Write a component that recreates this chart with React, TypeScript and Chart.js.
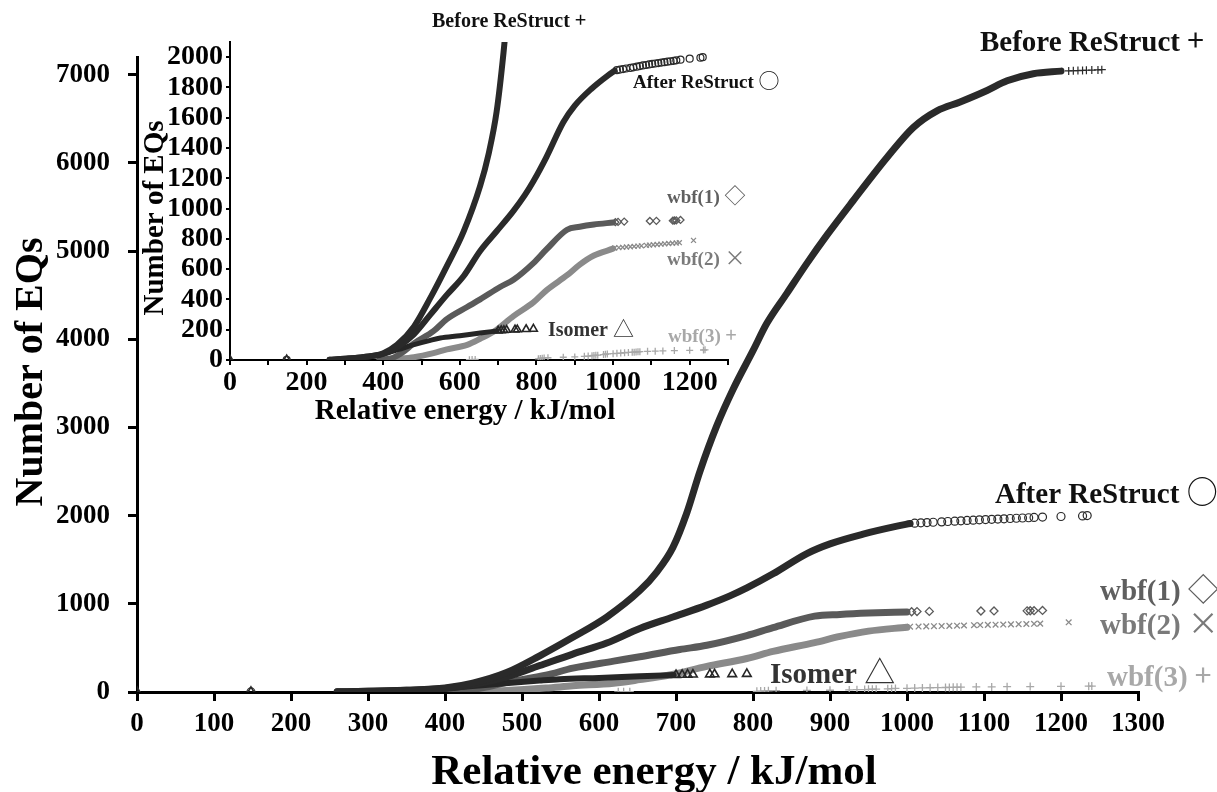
import React, { useEffect, useRef } from 'react';
import { Chart, registerables } from 'chart.js';

Chart.register(...registerables);

// ---------------- data ----------------
// energy (kJ/mol) and cumulative number of EQs
const beforeE = [260, 300, 350, 400, 436, 480, 523, 566, 610, 653, 675, 696, 714, 731, 753, 774, 800, 818, 844, 870, 896, 930, 974, 1008, 1039, 1069, 1104, 1130, 1164, 1200];
const beforeN = [2, 8, 20, 45, 100, 220, 410, 620, 850, 1150, 1360, 1640, 2030, 2500, 3020, 3430, 3870, 4180, 4520, 4860, 5180, 5570, 6060, 6400, 6590, 6690, 6820, 6930, 7010, 7040];
const beforeTailE = [0, 1210, 1216, 1222, 1228, 1233, 1240, 1248, 1253];
const beforeTailN = [1, 7042, 7044, 7046, 7048, 7050, 7052, 7054, 7056];

const afterE = [260, 300, 350, 400, 440, 480, 523, 566, 610, 653, 696, 740, 770, 792, 826, 870, 900, 943, 987, 1004];
const afterN = [2, 8, 20, 40, 90, 170, 300, 430, 555, 720, 850, 985, 1090, 1180, 1340, 1570, 1680, 1790, 1880, 1910];
const afterTailE = [148, 1010, 1018, 1026, 1034, 1045, 1053, 1062, 1070, 1078, 1086, 1094, 1102, 1110, 1118, 1126, 1134, 1142, 1150, 1158, 1165, 1176, 1200, 1228, 1234];
const afterTailN = [1, 1914, 1918, 1921, 1925, 1929, 1933, 1937, 1941, 1945, 1948, 1952, 1955, 1958, 1961, 1964, 1967, 1970, 1973, 1976, 1979, 1983, 1990, 1996, 2000];

const isoE = [260, 300, 350, 400, 440, 478, 523, 549, 600, 653, 697];
const isoN = [1, 6, 18, 40, 70, 100, 130, 145, 160, 178, 192];
const isoTailE = [0, 148, 700, 708, 715, 722, 744, 750, 773, 792];
const isoTailN = [1, 2, 193, 195, 196, 198, 200, 201, 203, 205];

const wbf1E = [390, 420, 450, 480, 531, 566, 619, 653, 705, 740, 792, 826, 880, 913, 950, 1000];
const wbf1N = [2, 10, 50, 110, 190, 270, 350, 400, 482, 530, 640, 730, 860, 880, 895, 908];
const wbf1TailE = [1006, 1013, 1029, 1096, 1113, 1156, 1160, 1165, 1176];
const wbf1TailN = [910, 912, 914, 918, 919, 920, 921, 922, 925];

const wbf2E = [400, 440, 480, 531, 566, 619, 653, 690, 740, 792, 826, 880, 913, 950, 1000];
const wbf2N = [2, 8, 18, 45, 70, 100, 140, 190, 290, 380, 460, 560, 630, 690, 735];
const wbf2TailE = [1004, 1015, 1025, 1035, 1045, 1055, 1065, 1074, 1087, 1095, 1105, 1115, 1125, 1135, 1145, 1155, 1165, 1173, 1210];
const wbf2TailN = [740, 742, 744, 746, 748, 750, 752, 754, 757, 759, 761, 763, 765, 767, 769, 771, 773, 775, 790];

const wbf3E = [625, 632, 640, 805, 810, 815, 820, 830, 870, 900, 925, 935, 945, 950, 955, 960, 975, 980, 985, 1000, 1010, 1020, 1030, 1040, 1050, 1055, 1060, 1065, 1070, 1090, 1110, 1130, 1160, 1200, 1236, 1240];
const wbf3N = [2, 3, 4, 8, 10, 12, 14, 15, 18, 20, 24, 26, 28, 30, 31, 32, 36, 38, 40, 42, 44, 46, 48, 50, 51, 52, 53, 54, 55, 57, 58, 60, 62, 64, 66, 67];

// axis ranges and tick values
const mainXRange = [0, 1300];
const mainYRange = [0, 7200];
const mainXTicks = [0, 100, 200, 300, 400, 500, 600, 700, 800, 900, 1000, 1100, 1200, 1300];
const mainYTicks = [0, 1000, 2000, 3000, 4000, 5000, 6000, 7000];
const insetXRange = [0, 1300];
const insetYRange = [0, 2100];
const insetXTicks = [0, 100, 200, 300, 400, 500, 600, 700, 800, 900, 1000, 1100, 1200, 1300];
const insetXLabelled = [0, 200, 400, 600, 800, 1000, 1200];
const insetYTicks = [0, 200, 400, 600, 800, 1000, 1200, 1400, 1600, 1800, 2000];

// series labels
const seriesLabels = ['Before ReStruct', 'After ReStruct', 'Isomer', 'wbf(1)', 'wbf(2)', 'wbf(3)'];
const seriesSymbols = ['+', '○', '△', '◇', '×', '+'];

// ---------------- styling ----------------
const SERIF = '"Liberation Serif", "Times New Roman", serif';
const SYM = '"Noto Sans CJK JP", "DejaVu Sans", sans-serif';
const COL = {
  before: '#2a2a2a',
  after: '#2a2a2a',
  iso: '#262626',
  wbf1: '#5a5a5a',
  wbf2: '#8a8a8a',
  wbf3: '#a8a8a8',
};

const pts = (xs: number[], ys: number[]) => xs.map((x, i) => ({ x, y: ys[i] }));

function buildDatasets(lineW: number, markR: number): any[] {
  const line = (xs: number[], ys: number[], color: string, w: number) => ({
    data: pts(xs, ys),
    showLine: true,
    borderColor: color,
    backgroundColor: color,
    borderWidth: w,
    pointRadius: 0,
    cubicInterpolationMode: 'monotone',
    borderCapStyle: 'round',
    borderJoinStyle: 'round',
  });
  const marks = (xs: number[], ys: number[], color: string, style: string, r: number, bw: number) => ({
    data: pts(xs, ys),
    showLine: false,
    pointStyle: style,
    pointRadius: r,
    borderColor: color,
    backgroundColor: 'rgba(255,255,255,0)',
    pointBorderWidth: bw,
  });
  return [
    line(beforeE, beforeN, COL.before, lineW),
    marks(beforeTailE, beforeTailN, COL.before, 'cross', markR, 1.2),
    line(afterE, afterN, COL.after, lineW),
    marks(afterTailE, afterTailN, COL.after, 'circle', markR, 1.2),
    line(isoE, isoN, COL.iso, lineW - 1),
    marks(isoTailE, isoTailN, COL.iso, 'triangle', markR + 1, 1.6),
    line(wbf1E, wbf1N, COL.wbf1, lineW),
    marks(wbf1TailE, wbf1TailN, COL.wbf1, 'rectRot', markR, 1.3),
    line(wbf2E, wbf2N, COL.wbf2, lineW),
    marks(wbf2TailE, wbf2TailN, COL.wbf2, 'crossRot', markR, 1.3),
    marks(wbf3E, wbf3N, COL.wbf3, 'cross', markR, 1.3),
  ];
}

function drawLabel(ctx: CanvasRenderingContext2D, idx: number, x: number, y: number, size: number, symSize: number, color: string) {
  ctx.save();
  ctx.fillStyle = color;
  ctx.textAlign = 'left';
  ctx.textBaseline = 'alphabetic';
  ctx.font = `bold ${size}px ${SERIF}`;
  const t = seriesLabels[idx] + ' ';
  ctx.fillText(t, x, y);
  const w = ctx.measureText(t).width;
  ctx.font = `${symSize}px ${SYM}`;
  ctx.fillText(seriesSymbols[idx], x + w, y);
  ctx.restore();
}

function rotatedText(ctx: CanvasRenderingContext2D, text: string, x: number, y: number, size: number) {
  ctx.save();
  ctx.translate(x, y);
  ctx.rotate(-Math.PI / 2);
  ctx.fillStyle = '#000';
  ctx.textAlign = 'center';
  ctx.textBaseline = 'alphabetic';
  ctx.font = `bold ${size}px ${SERIF}`;
  ctx.fillText(text, 0, 0);
  ctx.restore();
}

function flatText(ctx: CanvasRenderingContext2D, text: string, x: number, y: number, size: number) {
  ctx.save();
  ctx.fillStyle = '#000';
  ctx.textAlign = 'center';
  ctx.textBaseline = 'alphabetic';
  ctx.font = `bold ${size}px ${SERIF}`;
  ctx.fillText(text, x, y);
  ctx.restore();
}

// annotations drawn on the main canvas (page coordinates)
const annotationPlugin = {
  id: 'annots',
  afterDraw(chart: any) {
    const ctx: CanvasRenderingContext2D = chart.ctx;
    // main axis titles
    rotatedText(ctx, 'Number of EQs', 42, 372, 40);
    flatText(ctx, 'Relative energy / kJ/mol', 654, 784, 43);
    // inset axis titles
    rotatedText(ctx, 'Number of EQs', 163, 218, 29);
    flatText(ctx, 'Relative energy / kJ/mol', 465, 419, 29);
    // main series labels
    drawLabel(ctx, 0, 980, 51, 29, 30, '#111');
    drawLabel(ctx, 1, 995, 503, 29, 31, '#111');
    drawLabel(ctx, 3, 1100, 600, 29, 31, '#5f5f5f');
    drawLabel(ctx, 4, 1100, 634, 29, 31, '#7a7a7a');
    drawLabel(ctx, 2, 770, 683, 29, 31, '#333');
    drawLabel(ctx, 5, 1107, 686, 29, 30, '#a8a8a8');
    // inset series labels
    drawLabel(ctx, 0, 432, 27, 20, 20, '#111');
    drawLabel(ctx, 1, 633, 88, 19, 21, '#111');
    drawLabel(ctx, 3, 667, 203, 19, 21, '#5f5f5f');
    drawLabel(ctx, 4, 667, 265, 19, 21, '#7a7a7a');
    drawLabel(ctx, 2, 548, 336, 20, 21, '#333');
    drawLabel(ctx, 5, 668, 342, 19, 20, '#a8a8a8');
  },
};

function axis(range: number[], tickVals: number[], labelled: number[] | null, size: number, tickLen: number, lw: number, pad: number, fit: (s: any) => void) {
  return {
    type: 'linear',
    min: range[0],
    max: range[1],
    border: { display: true, color: '#000', width: lw },
    grid: { drawOnChartArea: false, drawTicks: true, tickLength: tickLen, color: '#000', lineWidth: lw },
    afterBuildTicks: (s: any) => {
      s.ticks = tickVals.map((v) => ({ value: v }));
    },
    ticks: {
      autoSkip: false,
      maxRotation: 0,
      minRotation: 0,
      color: '#000',
      padding: pad,
      font: { family: SERIF, size, weight: 'bold' },
      callback: (v: number) => (labelled && labelled.indexOf(v) < 0 ? '' : String(v)),
    },
    afterFit: fit,
  };
}

export default function App() {
  const mainRef = useRef<HTMLCanvasElement | null>(null);
  const insetRef = useRef<HTMLCanvasElement | null>(null);

  useEffect(() => {
    const main = new Chart(mainRef.current as HTMLCanvasElement, {
      type: 'scatter',
      data: { datasets: buildDatasets(7, 4) },
      options: {
        animation: false,
        responsive: false,
        maintainAspectRatio: false,
        events: [],
        layout: { padding: { left: 0, top: 57, right: 79, bottom: 0 } },
        plugins: { legend: { display: false }, tooltip: { enabled: false } },
        scales: {
          x: axis(mainXRange, mainXTicks, null, 27, 9, 3, 7, (s: any) => { s.height = 100; }) as any,
          y: axis(mainYRange, mainYTicks, null, 27, 9, 3, 18, (s: any) => { s.width = 137; }) as any,
        },
      },
      plugins: [annotationPlugin],
    } as any);

    const inset = new Chart(insetRef.current as HTMLCanvasElement, {
      type: 'scatter',
      data: { datasets: buildDatasets(6, 3.5) },
      options: {
        animation: false,
        responsive: false,
        maintainAspectRatio: false,
        events: [],
        layout: { padding: { left: 0, top: 42, right: 32, bottom: 0 } },
        plugins: { legend: { display: false }, tooltip: { enabled: false } },
        scales: {
          x: axis(insetXRange, insetXTicks, insetXLabelled, 28, 5, 2, 1, (s: any) => { s.height = 70; }) as any,
          y: axis(insetYRange, insetYTicks, null, 28, 4, 2, 3, (s: any) => { s.width = 90; }) as any,
        },
      },
    } as any);

    return () => {
      main.destroy();
      inset.destroy();
    };
  }, []);

  return (
    <div style={{ position: 'fixed', left: 0, top: 0, width: 1217, height: 792, background: '#fff', overflow: 'hidden' }}>
      <canvas ref={mainRef} width={1217} height={792} style={{ position: 'absolute', left: 0, top: 0, width: 1217, height: 792 }} />
      <canvas ref={insetRef} width={620} height={430} style={{ position: 'absolute', left: 140, top: 0, width: 620, height: 430 }} />
    </div>
  );
}
